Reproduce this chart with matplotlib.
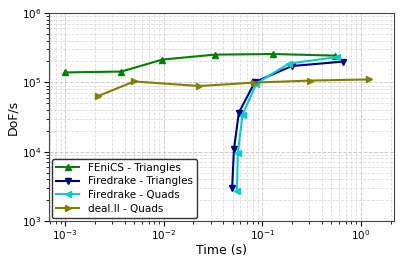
import numpy as np
import matplotlib
matplotlib.use("Agg")
import matplotlib.pyplot as plt

fenics_t   = [1.0e-3, 3.7e-3, 9.7e-3, 0.033, 0.129, 0.54]
fenics_d   = [1.39e5, 1.43e5, 2.13e5, 2.51e5, 2.56e5, 2.43e5]

fd_tri_t   = [0.0494, 0.0515, 0.0578, 0.084, 0.20, 0.66]
fd_tri_d   = [2.98e3, 1.08e4, 3.66e4, 1.01e5, 1.72e5, 1.99e5]

fd_quad_t  = [0.0551, 0.0565, 0.063, 0.087, 0.185, 0.574]
fd_quad_d  = [2.7e3, 9.7e3, 3.42e4, 9.6e4, 1.86e5, 2.32e5]

deal_t     = [2.16e-3, 5.0e-3, 0.0229, 0.082, 0.303, 1.21]
deal_d     = [6.34e4, 1.03e5, 8.85e4, 9.9e4, 1.06e5, 1.10e5]

fig = plt.figure(figsize=(4.15, 2.6), dpi=100)
ax = fig.add_axes([0.118, 0.15, 0.831, 0.80])

ax.plot(fenics_t, fenics_d, "^-", color="green", lw=1.5, ms=5, label="FEniCS - Triangles")
ax.plot(fd_tri_t, fd_tri_d, "v-", color="navy", lw=1.5, ms=5, label="Firedrake - Triangles")
ax.plot(fd_quad_t, fd_quad_d, "<-", color="darkturquoise", lw=1.5, ms=5, label="Firedrake - Quads")
ax.plot(deal_t, deal_d, ">-", color="olive", lw=1.5, ms=5, label="deal.II - Quads")

ax.set_xscale("log")
ax.set_yscale("log")
ax.set_xlim(6.84e-4, 2.16)
ax.set_ylim(1e3, 1e6)

ax.grid(which="major", linestyle="--", color="#cccccc", lw=0.7)
ax.grid(which="minor", linestyle="--", color="#dddddd", lw=0.6)
ax.set_axisbelow(True)

ax.set_xlabel("Time (s)", fontsize=9, labelpad=1)
ax.set_ylabel("DoF/s", fontsize=9, labelpad=2)
ax.tick_params(labelsize=7.5, pad=2)
for s in ax.spines.values():
    s.set_color("#444444")

leg = ax.legend(loc="lower left", fontsize=7.5, borderaxespad=0.3,
                handlelength=2.2, labelspacing=0.35, fancybox=True)
leg.get_frame().set_edgecolor("#333333")
leg.get_frame().set_alpha(1.0)

plt.savefig("out.png", dpi=100)
